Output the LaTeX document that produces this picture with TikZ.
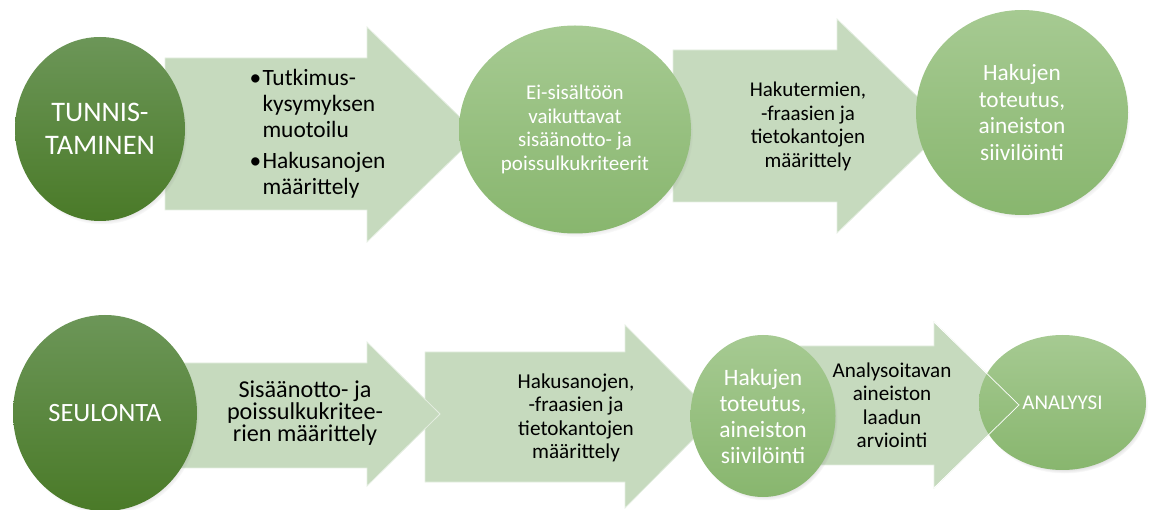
\documentclass[tikz,border=0pt]{standalone}
\usepackage{fontspec}
\setmainfont{Carlito}
\usetikzlibrary{shapes.geometric,shadows,fadings}
\definecolor{dkT}{RGB}{108,150,88}
\definecolor{dkB}{RGB}{74,122,40}
\definecolor{ltT}{RGB}{166,202,146}
\definecolor{ltB}{RGB}{136,182,110}
\definecolor{arrfill}{RGB}{198,218,190}
\tikzset{
  blob/.style={ellipse, inner sep=0pt, text=white, align=center,
    circular drop shadow={shadow xshift=2pt, shadow yshift=-3.5pt, shadow scale=1.0, opacity=0.55}},
  dk/.style={blob, top color=dkT, bottom color=dkB},
  lt/.style={blob, top color=ltT, bottom color=ltB},
  arr/.style={fill=arrfill, draw=white!55!arrfill, line width=0.8pt},
  edge/.style={draw=white, line width=0.7pt},
  atext/.style={text=black, align=center},
}
\begin{document}
\begin{tikzpicture}[x=1pt,y=-1pt]
\path[use as bounding box] (0,0) rectangle (1149,510);
% ---------- top row ----------
\path[arr] (165,58) -- (367,58) -- (367,27) -- (478,134.5) -- (367,242) -- (367,210) -- (165,210) -- cycle;
\path[arr] (673,50) -- (837,50) -- (837,19) -- (948,126) -- (837,233) -- (837,202) -- (673,202) -- cycle;
\node[dk, minimum width=170pt, minimum height=184pt,
  font=\fontsize{28.3}{33}\selectfont] (c1) at (100,129) {TUNNIS-\\TAMINEN};
\node[lt, minimum width=232pt, minimum height=208pt,
  font=\fontsize{21}{23.5}\selectfont] (c2) at (575,129.5) {Ei-sisältöön\\vaikuttavat\\sisäänotto- ja\\poissulkukriteerit};
\node[lt, minimum width=212pt, minimum height=205pt,
  font=\fontsize{23.3}{26.5}\selectfont] (c3) at (1022,112.5) {Hakujen\\toteutus,\\aineiston\\siivilöinti};
\node[atext, anchor=west, align=left, font=\fontsize{23.4}{26}\selectfont] (t1) at (246,134)
  {\makebox[13pt][l]{•}Tutkimus-\\\hspace*{13pt}kysymyksen\\\hspace*{13pt}muotoilu\\[5pt]\makebox[13pt][l]{•}Hakusanojen\\\hspace*{13pt}määrittely};
\node[atext, font=\fontsize{21}{23.5}\selectfont] (t2) at (808,126.5)
  {Hakutermien,\\-fraasien ja\\tietokantojen\\määrittely};
% ---------- bottom row ----------
\path[arr] (425,352) -- (625,352) -- (625,325) -- (716,416.5) -- (625,508) -- (625,482) -- (425,482) -- cycle;
\path[arr] (180,363) -- (367,363) -- (367,342) -- (440,414) -- (367,486) -- (367,468) -- (180,468) -- cycle;
\path[arr] (790,346) -- (934,346) -- (934,322) -- (1019,405) -- (934,488) -- (934,465) -- (790,465) -- cycle;
\node[dk, minimum width=184pt, minimum height=196pt,
  font=\fontsize{26.4}{30}\selectfont] (c4) at (105,413) {SEULONTA};
\node[lt, minimum width=145pt, minimum height=162pt,
  font=\fontsize{23.5}{26}\selectfont] (c5) at (763,416) {Hakujen\\toteutus,\\aineiston\\siivilöinti};
\node[lt, minimum width=167pt, minimum height=135pt,
  font=\fontsize{21}{24}\selectfont] (c6) at (1062.5,402.5) {ANALYYSI};
\path[edge] (934,322) -- (1019,405) -- (934,488);
\node[atext, font=\fontsize{24.2}{22}\selectfont] (t3) at (305,413.5)
  {Sisäänotto- ja\\poissulkukritee-\\rien määrittely};
\node[atext, font=\fontsize{21.2}{23.5}\selectfont] (t4) at (576,418)
  {Hakusanojen,\\-fraasien ja\\tietokantojen\\määrittely};
\node[atext, font=\fontsize{21.1}{23.5}\selectfont] (t5) at (892,405.5)
  {Analysoitavan\\aineiston\\laadun\\arviointi};
\end{tikzpicture}
\end{document}
